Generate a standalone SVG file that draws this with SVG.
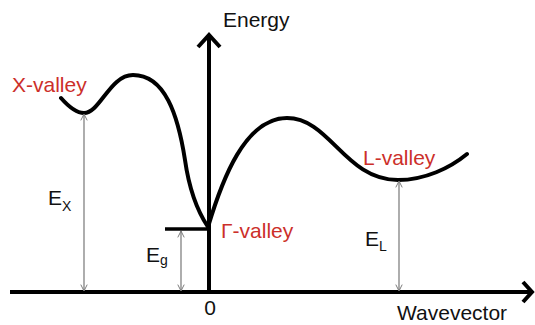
<svg xmlns="http://www.w3.org/2000/svg" width="535" height="325" viewBox="0 0 535 325">
<defs>
<style>
.lbl{font-family:"Liberation Sans",Arial,sans-serif;font-size:21px;fill:#111}
.red{fill:#cc2f2a}
.sub{font-size:14px}
.axis{stroke:#000;stroke-width:4;fill:none;stroke-linecap:butt}
.band{stroke:#000;stroke-width:4;fill:none;stroke-linecap:round;stroke-linejoin:round}
.dim{stroke:#777;stroke-width:1.2;fill:none}
</style>
<marker id="dh" viewBox="0 0 10 10" refX="9" refY="5" markerWidth="8" markerHeight="8" markerUnits="userSpaceOnUse" orient="auto-start-reverse">
<path d="M1,1 L9,5 L1,9" fill="none" stroke="#777" stroke-width="1.2"/>
</marker>
</defs>
<rect width="535" height="325" fill="#fff"/>
<g id="connectors">
<path class="axis" d="M10,292 L531,292"/>
<path class="axis" d="M523,282 L532,292 L523,302" stroke-linejoin="miter"/>
<path class="axis" d="M209,294 L209,36"/>
<path class="axis" d="M198,47 L209,35 L220,47" stroke-linejoin="miter"/>
<path class="band" d="M61,98 C68,106 76,113 84,113 C100,113 110,75 133,75 C165,75 178,115 185,160 C190,195 200,215 208,227 C222,180 245,118 287,118 C330,118 345,180 398,180 C425,180 450,168 467,154"/>
<path d="M165,229 L209,229" stroke="#000" stroke-width="3.5"/>
<path class="dim" d="M84,114 L84,291" marker-start="url(#dh)" marker-end="url(#dh)"/>
<path class="dim" d="M181,231 L181,291" marker-start="url(#dh)" marker-end="url(#dh)"/>
<path class="dim" d="M399,181 L399,291" marker-start="url(#dh)" marker-end="url(#dh)"/>
</g>
<g id="energy"><text class="lbl" x="223" y="27">Energy</text></g>
<g id="wavevector"><text class="lbl" x="397" y="320">Wavevector</text></g>
<g id="zero"><text class="lbl" x="210" y="315" text-anchor="middle">0</text></g>
<g id="x-valley"><text class="lbl red" x="12" y="92">X-valley</text></g>
<g id="gamma-valley"><text class="lbl red" x="221" y="238">Γ-valley</text></g>
<g id="l-valley"><text class="lbl red" x="363" y="165">L-valley</text></g>
<g id="ex"><text class="lbl" x="48" y="205">E<tspan class="sub" dy="6">X</tspan></text></g>
<g id="eg"><text class="lbl" x="146" y="262">E<tspan class="sub" dy="3">g</tspan></text></g>
<g id="el"><text class="lbl" x="365" y="246">E<tspan class="sub" dy="5">L</tspan></text></g>
</svg>
